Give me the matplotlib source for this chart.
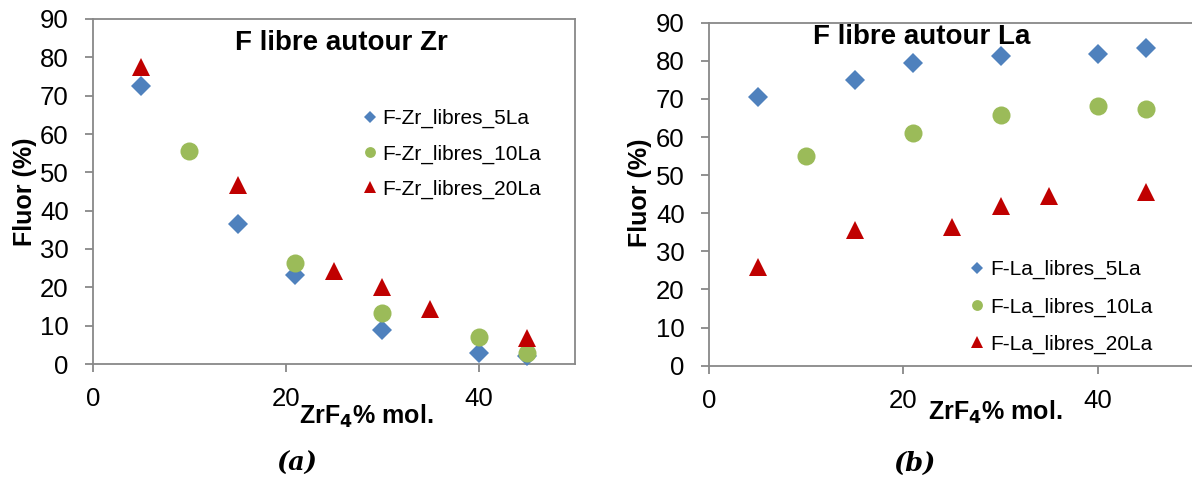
import matplotlib
matplotlib.use("Agg")
import matplotlib.pyplot as plt

plt.rcParams['font.family'] = ['Liberation Sans', 'DejaVu Sans']

# ---- data: panel (a) F libre autour Zr ----
zr_5La_x = [5, 15, 21, 30, 40, 45]
zr_5La_y = [72.6, 36.4, 23.2, 8.9, 2.8, 2.0]
zr_10La_x = [10, 21, 30, 40, 45]
zr_10La_y = [55.6, 26.3, 13.4, 7.0, 2.8]
zr_20La_x = [5, 15, 25, 30, 35, 45]
zr_20La_y = [77.5, 46.6, 24.2, 20.0, 14.3, 6.7]

# ---- data: panel (b) F libre autour La ----
la_5La_x = [5, 15, 21, 30, 40, 45]
la_5La_y = [70.5, 75.0, 79.3, 81.3, 81.8, 83.3]
la_10La_x = [10, 21, 30, 40, 45]
la_10La_y = [55.0, 61.0, 65.9, 68.2, 67.4]
la_20La_x = [5, 15, 25, 30, 35, 45]
la_20La_y = [25.9, 35.7, 36.4, 41.8, 44.6, 45.6]

labels_a = ["F-Zr_libres_5La", "F-Zr_libres_10La", "F-Zr_libres_20La"]
labels_b = ["F-La_libres_5La", "F-La_libres_10La", "F-La_libres_20La"]
titles = ["F libre autour Zr", "F libre autour La"]
xticks = [0, 20, 40]
yticks = [0, 10, 20, 30, 40, 50, 60, 70, 80, 90]

BLUE = "#4F81BD"
GREEN = "#9BBB59"
RED = "#C00000"
GRAY = "#888888"

W, H = 1192, 479
fig = plt.figure(figsize=(W / 100, H / 100), dpi=100)

def px(x, y):
    return x / W, 1 - y / H

ax1 = fig.add_axes([93 / W, 1 - 364 / H, 482 / W, 345 / H])
ax2 = fig.add_axes([709 / W, 1 - 365.7 / H, 486 / W, 343 / H])

def style(ax):
    ax.set_xlim(0, 50)
    ax.set_ylim(0, 90)
    ax.set_xticks(xticks)
    ax.set_yticks(yticks)
    for s in ax.spines.values():
        s.set_color(GRAY)
        s.set_linewidth(1.3)
    ax.tick_params(direction='out', length=5.5, width=1.3, color=GRAY,
                   labelsize=18.5, labelcolor='black')
    ax.tick_params(axis='y', pad=12)
    ax.tick_params(axis='x', pad=11)

def series(ax, data, labels):
    (x1, y1), (x2, y2), (x3, y3) = data
    ax.plot(x1, y1, linestyle='none', marker='D', ms=10, mew=0, color=BLUE,
            label=labels[0], clip_on=False, zorder=3)
    ax.plot(x2, y2, linestyle='none', marker='o', ms=13, mew=0, color=GREEN,
            label=labels[1], clip_on=False, zorder=4)
    ax.plot(x3, y3, linestyle='none', marker='^', ms=13.5, mew=0, color=RED,
            label=labels[2], clip_on=False, zorder=5)

style(ax1)
style(ax2)
series(ax1, [(zr_5La_x, zr_5La_y), (zr_10La_x, zr_10La_y), (zr_20La_x, zr_20La_y)], labels_a)
series(ax2, [(la_5La_x, la_5La_y), (la_10La_x, la_10La_y), (la_20La_x, la_20La_y)], labels_b)

leg1 = fig.legend(handles=ax1.get_lines(), labels=labels_a, loc='center left',
                  bbox_to_anchor=px(364, 154), frameon=False, fontsize=15,
                  markerscale=0.6, handlelength=0.6, handletextpad=0.3,
                  borderpad=0, borderaxespad=0, labelspacing=0.77)
leg2 = fig.legend(handles=ax2.get_lines(), labels=labels_b, loc='center left',
                  bbox_to_anchor=px(971, 307), frameon=False, fontsize=15,
                  markerscale=0.6, handlelength=0.6, handletextpad=0.3,
                  borderpad=0, borderaxespad=0, labelspacing=0.87)

# titles
fig.text(*px(341, 43), titles[0], ha='center', va='center', fontsize=20, fontweight='bold')
fig.text(*px(922, 37), titles[1], ha='center', va='center', fontsize=20, fontweight='bold')

# axis labels
for (xx, yy) in [(25, 192), (640, 193)]:
    fig.text(*px(xx, yy), "Fluor (%)", ha='center', va='center', rotation=90,
             fontsize=18, fontweight='bold')
for (xx, yy) in [(366, 416), (995, 412)]:
    fig.text(*px(xx, yy), r"ZrF$_\mathbf{4}$% mol.", ha='center', va='center',
             fontsize=18, fontweight='bold')

# panel letters
fig.text(*px(297, 463), "(a)", ha='center', va='center', fontsize=18.5,
         fontweight='bold', fontstyle='italic', family='DejaVu Serif')
fig.text(*px(915, 463), "(b)", ha='center', va='center', fontsize=18.5,
         fontweight='bold', fontstyle='italic', family='DejaVu Serif')

fig.savefig("out.png", dpi=100)
